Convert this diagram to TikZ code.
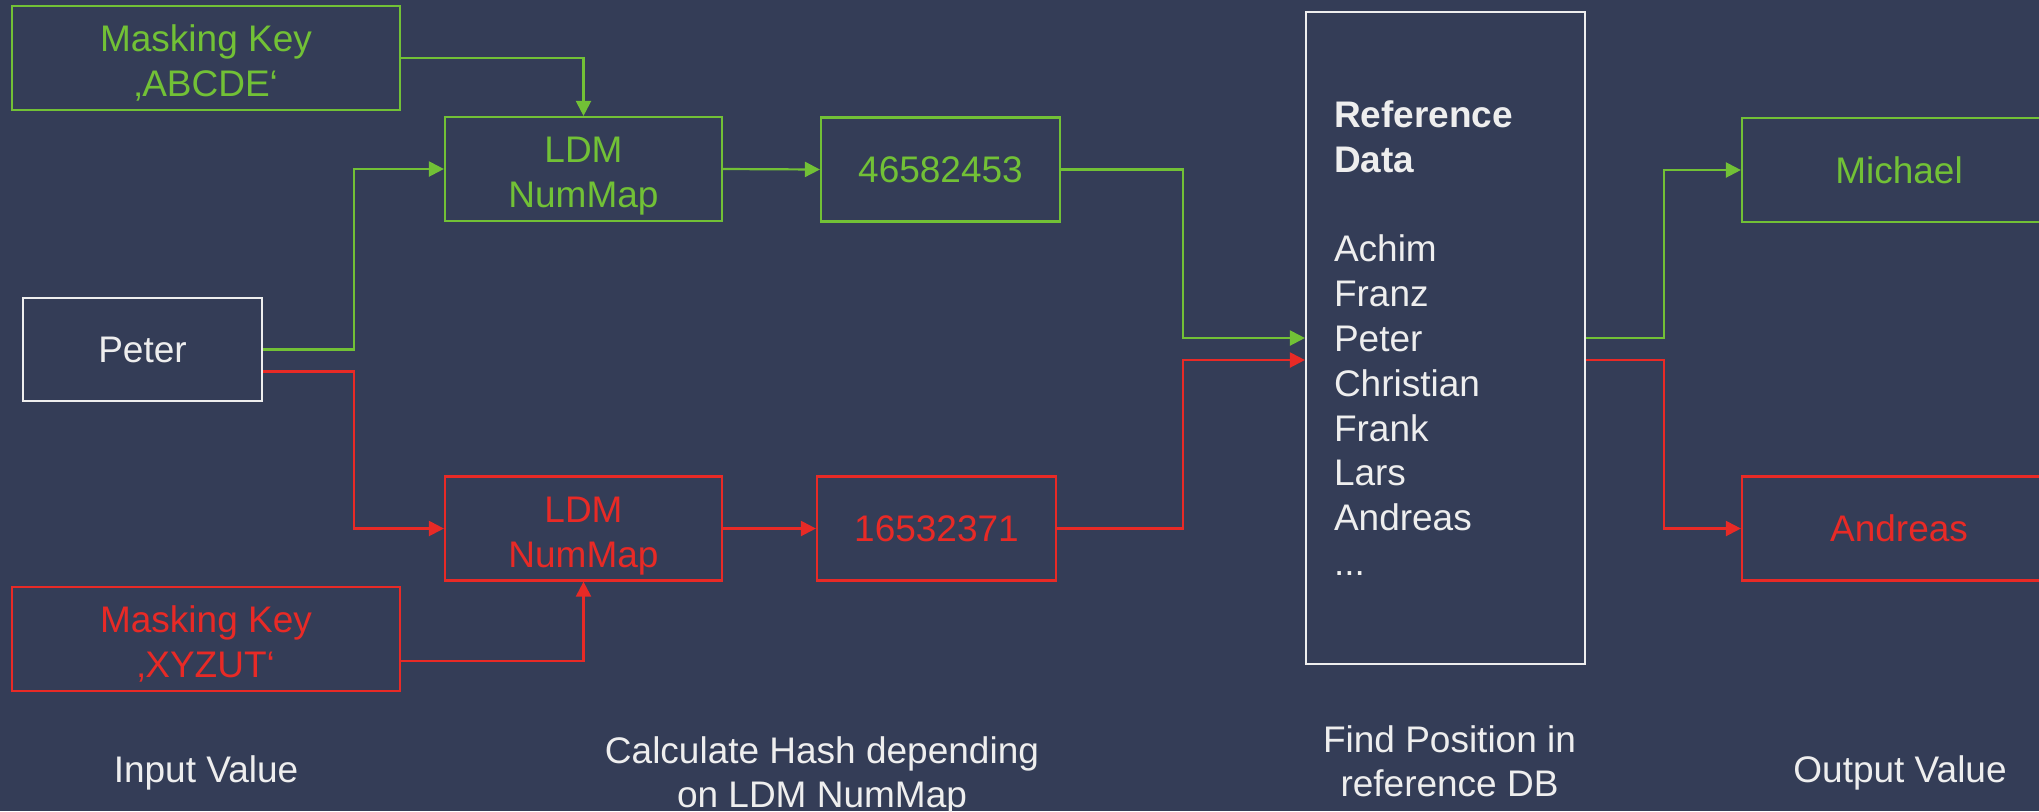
\documentclass[tikz,border=0pt]{standalone}
\usepackage{fontspec}
\setmainfont{Liberation Sans}
\usetikzlibrary{arrows.meta}
\definecolor{bg}{HTML}{343D57}
\definecolor{okgreen}{RGB}{114,193,54}
\definecolor{badred}{RGB}{232,42,38}
\definecolor{paper}{RGB}{238,238,238}
\begin{document}
\begin{tikzpicture}[x=0.5pt,y=-0.5pt,
  txt/.style={font=\fontsize{18.5}{22.4}\selectfont, align=center, inner sep=0pt},
  box/.style={txt, draw, line width=1.1pt, minimum height=52pt},
  twoline/.style={text height=38.5pt, text depth=0pt},
  greenbox/.style={box, draw=okgreen, text=okgreen},
  redbox/.style={box, draw=badred, text=badred},
  link/.style={line width=1.1pt, -{Triangle[length=7.5pt,width=7.5pt]}},
  greenlink/.style={link, draw=okgreen, okgreen},
  redlink/.style={link, draw=badred, badred},
  caption/.style={txt, text=paper}]
\useasboundingbox (0,0) rectangle (2039,811);
\clip (0,0) rectangle (2039,811);
\fill[bg] (0,0) rectangle (2039,811);

% input and masking keys
\node[greenbox, twoline, minimum width=194pt] (keyA) at (206,58) {Masking Key\\‚ABCDE‘};
\node[redbox, twoline, minimum width=194pt] (keyB) at (206,639) {Masking Key\\‚XYZUT‘};
\node[box, draw=paper, text=paper, minimum width=119.5pt, minimum height=51.5pt] (input) at (142.5,349.5) {Peter};

% hashing stage
\node[greenbox, twoline, minimum width=138.5pt] (mapA) at (583.5,169) {LDM\\NumMap};
\node[redbox, twoline, minimum width=138.5pt] (mapB) at (583.5,528.5) {LDM\\NumMap};
\node[greenbox, minimum width=119.5pt] (hashA) at (940.5,169.5) {46582453};
\node[redbox, minimum width=119.5pt] (hashB) at (936.5,528.5) {16532371};

% reference data
\node[box, draw=paper, text=paper, minimum width=139.5pt, minimum height=326pt,
      text width=111.5pt, align=left] (ref) at (1445.5,338)
  {\textbf{Reference}\\\textbf{Data}\\[22.4pt]Achim\\Franz\\Peter\\Christian\\Frank\\Lars\\Andreas\\...};

% outputs
\node[greenbox, minimum width=157pt] (outA) at (1899,170) {Michael};
\node[redbox, minimum width=157pt] (outB) at (1899,528.5) {Andreas};

% connectors
\draw[greenlink] (keyA.east) -| (mapA.north);
\draw[redlink] ([yshift=-11pt]keyB.east) -| (mapB.south);
\draw[greenlink] (input.east) -- ++(91,0) |- (mapA.west);
\draw[redlink] ([yshift=-11pt]input.east) -- ++(91,0) |- (mapB.west);
\draw[greenlink] (mapA.east) -- (hashA.west);
\draw[redlink] (mapB.east) -- (hashB.west);
\draw[greenlink] (hashA.east) -- ++(122,0) |- (ref.west);
\draw[redlink] (hashB.east) -- ++(126,0) |- ([yshift=-11pt]ref.west);
\draw[greenlink] (ref.east) -- ++(78,0) |- (outA.west);
\draw[redlink] ([yshift=-11pt]ref.east) -- ++(78,0) |- (outB.west);

% stage captions
\node[caption, anchor=base] (capIn) at (206,782) {Input Value};
\node[caption, text depth=0pt] (capHash) at (822,772) {Calculate Hash depending\\on LDM NumMap};
\node[caption, text depth=0pt] (capFind) at (1449.5,761) {Find Position in\\reference DB};
\node[caption, anchor=base] (capOut) at (1900,782) {Output Value};
\end{tikzpicture}
\end{document}
